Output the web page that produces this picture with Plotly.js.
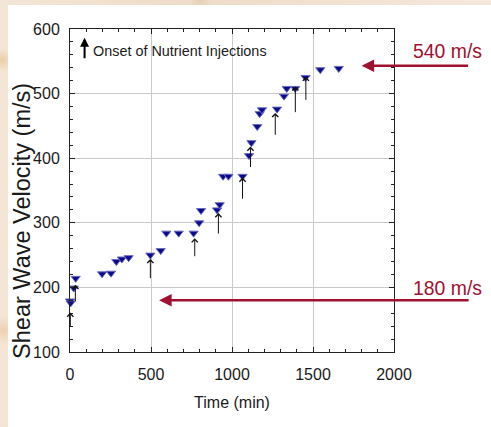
<!DOCTYPE html>
<html>
<head>
<meta charset="utf-8">
<script src="https://cdn.plot.ly/plotly-3.0.1.min.js"></script>
<style>
  html, body { margin: 0; padding: 0; }
  body {
    width: 491px; height: 427px; overflow: hidden; position: relative;
    background: #f1e3d0;
    background-image:
      radial-gradient(circle at 2px 60px, rgba(230,190,140,0.6) 0, rgba(230,190,140,0) 12px),
      radial-gradient(circle at 3px 330px, rgba(235,195,150,0.6) 0, rgba(235,195,150,0) 14px),
      radial-gradient(circle at 200px 1px, rgba(225,200,170,0.6) 0, rgba(225,200,170,0) 10px),
      linear-gradient(90deg, #f3e6d6, #efdcc8 40%, #f4e8dc);
  }
  #panel { position: absolute; left: 8px; top: 5px; width: 483px; height: 422px; background: #ffffff; }
  #chart { position: absolute; left: 0; top: 0; width: 491px; height: 427px; }
</style>
</head>
<body>
<div id="panel"></div>
<div id="chart"></div>
<script>
// Measured shear wave velocity
const timeMin = [0, 4, 23, 35, 198, 253, 286, 320, 362, 496, 560, 595, 671, 763, 797, 809, 908, 924, 945, 978, 1065, 1105, 1120, 1156, 1171, 1185, 1278, 1321, 1338, 1390, 1454, 1545, 1659];
const velocity = [179, 176, 199, 214, 221, 222, 240, 244, 246, 250, 257, 284, 284, 284, 300, 319, 320, 328, 372, 372, 372, 404, 424, 449, 469, 475, 476, 496, 508, 508, 525, 537, 539];

// Onset of nutrient injections (arrow x, arrow tip value, arrow tail value)
const injTime = [2, 33, 496, 770, 916, 1065, 1114, 1267, 1391, 1456];
const injTip  = [161, 204, 244, 276, 315, 370, 418, 470, 511, 526];
const injTail = [137, 176, 212, 246, 281, 335, 384, 434, 469, 488];

// Reference levels
const refLevels = [540, 180];
const refLabels = ['540 m/s', '180 m/s'];
const refTipTime = [1800, 550];

const xTicks = [0, 500, 1000, 1500, 2000];
const yTicks = [100, 200, 300, 400, 500, 600];

const FONT = 'Liberation Sans, Arial, sans-serif';
const RED = '#a0102f';
const TXT = '#1a1a1a';

const annotations = [];
for (let i = 0; i < injTime.length; i++) {
  annotations.push({
    x: injTime[i], y: injTip[i], xref: 'x', yref: 'y',
    ax: injTime[i], ay: injTail[i], axref: 'x', ayref: 'y',
    text: '', showarrow: true, arrowhead: 4, arrowsize: 1.2, arrowwidth: 1,
    arrowcolor: '#111111'
  });
}
// legend arrow + text
annotations.push({
  x: 0.045, y: 0.973, xref: 'paper', yref: 'paper', ax: 0, ay: 22,
  text: '', showarrow: true, arrowhead: 2, arrowsize: 0.9, arrowwidth: 2, arrowcolor: '#000000'
});
annotations.push({
  x: 0.066, y: 0.933, xref: 'paper', yref: 'paper', xanchor: 'left', yanchor: 'middle',
  text: 'Onset of Nutrient Injections', showarrow: false,
  font: {family: FONT, size: 14.4, color: TXT}
});
// y axis title
annotations.push({
  x: -0.148, y: 0.406, xref: 'paper', yref: 'paper', xanchor: 'center', yanchor: 'middle',
  text: 'Shear Wave Velocity (m/s)', textangle: -90, showarrow: false,
  font: {family: FONT, size: 23.5, color: TXT}
});
// reference arrows & labels
const refArrowPx = [108, 311];
const refLabelY = [0.932, 0.198];
for (let i = 0; i < refLevels.length; i++) {
  annotations.push({
    x: refTipTime[i], y: refLevels[i] + (i === 0 ? 3 : 0), xref: 'x', yref: 'y',
    ax: refArrowPx[i], ay: 0,
    text: '', showarrow: true, arrowhead: 2, arrowsize: 1, arrowwidth: 2.5, arrowcolor: RED
  });
  annotations.push({
    x: 1.164, y: refLabelY[i], xref: 'paper', yref: 'paper', xanchor: 'center', yanchor: 'middle',
    text: refLabels[i], showarrow: false,
    font: {family: FONT, size: 19.4, color: RED}
  });
}

const data = [{
  x: timeMin, y: velocity, type: 'scatter', mode: 'markers', cliponaxis: false,
  marker: {symbol: 'triangle-down', size: 8, color: '#0a0a8c', line: {color: '#6b6bc0', width: 1}},
  hoverinfo: 'x+y'
}];

const axisCommon = {
  showline: true, linecolor: '#222222', linewidth: 1, mirror: 'ticks',
  ticks: 'inside', ticklen: 5, tickcolor: '#222222', tickwidth: 1,
  showgrid: true, gridcolor: '#c9c9c9', gridwidth: 1, zeroline: false,
  tickfont: {family: FONT, size: 16, color: TXT}
};

const layout = {
  width: 491, height: 427,
  margin: {l: 70, r: 97, t: 29, b: 75, pad: 0},
  paper_bgcolor: 'rgba(0,0,0,0)', plot_bgcolor: 'rgba(0,0,0,0)',
  showlegend: false,
  xaxis: Object.assign({}, axisCommon, {
    range: [0, 2000], tickvals: xTicks, ticktext: xTicks.map(String),
    ticklabelstandoff: 8,
    minor: {dtick: 100, ticks: 'inside', ticklen: 3, tickcolor: '#222222', showgrid: false},
    title: {text: 'Time (min)', font: {family: FONT, size: 16, color: TXT}, standoff: 14}
  }),
  yaxis: Object.assign({}, axisCommon, {
    range: [100, 600], tickvals: yTicks, ticktext: yTicks.map(String),
    ticklabelstandoff: 6,
    minor: {dtick: 20, ticks: 'inside', ticklen: 3, tickcolor: '#222222', showgrid: false}
  }),
  annotations: annotations
};

Plotly.newPlot('chart', data, layout, {displayModeBar: false, staticPlot: true});
</script>
</body>
</html>
